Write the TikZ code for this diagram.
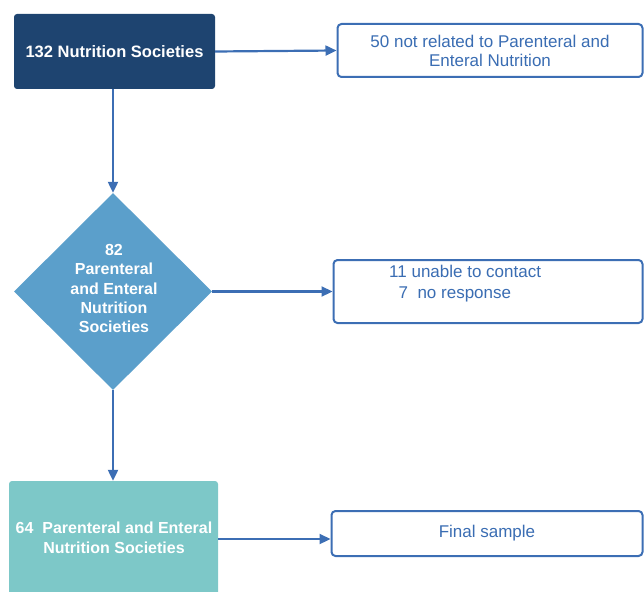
\documentclass[tikz,border=0pt]{standalone}
\usepackage{fontspec}
\setmainfont{Liberation Sans}
\usetikzlibrary{arrows.meta,shapes.geometric}
\definecolor{navy}{HTML}{1E4470}
\definecolor{diam}{HTML}{5B9FCB}
\definecolor{teal}{HTML}{7DC8C8}
\definecolor{lineblue}{HTML}{3C6EB4}
\definecolor{txtblue}{HTML}{3A6DB3}
\tikzset{
  filledbox/.style={rounded corners=3pt, inner sep=0pt, text=white, font=\bfseries\fontsize{16.5}{20}\selectfont, align=center},
  whitebold/.style={text=white, font=\bfseries\fontsize{16}{19.2}\selectfont, align=center, inner sep=0pt},
  outbox/.style={draw=lineblue, line width=2pt, rounded corners=4pt, fill=white, text=txtblue, font=\fontsize{17}{19}\selectfont, align=center, inner sep=0pt},
  conn/.style={draw=lineblue, line width=2.2pt, -{Triangle[length=11pt,width=10pt]}},
}
\begin{document}
\begin{tikzpicture}[x=1pt,y=-1pt]
\useasboundingbox (0,0) rectangle (644,591);
% boxes
\node[filledbox, fill=navy, minimum width=201pt, minimum height=75pt] (b1) at (114.5,51.5) {132 Nutrition Societies};
\node[outbox, minimum width=305pt, minimum height=53pt] (r1) at (490,50.5) {50 not related to Parenteral and\\Enteral Nutrition};
\node[diamond, fill=diam, minimum width=198pt, minimum height=197pt, inner sep=0pt] (d) at (113,291.5) {};
\node[whitebold] (dt) at (114,288.5) {82\\Parenteral\\and Enteral\\Nutrition\\Societies};
\node[outbox, minimum width=309pt, minimum height=63pt] (r2) at (488,291.5) {};
\node[text=txtblue, font=\fontsize{17}{21}\selectfont, align=left, anchor=north west, inner sep=0pt] (r2t) at (389,265) {11 unable to contact\\\ \ 7\ \ no response};
\node[filledbox, fill=teal, minimum width=209pt, minimum height=130pt] (b3) at (113.5,546) {};
\node[whitebold, font=\bfseries\fontsize{16}{20}\selectfont] (b3t) at (114,538) {64\ \ Parenteral and Enteral\\Nutrition Societies};
\node[outbox, minimum width=311pt, minimum height=45pt] (r3) at (487,533.5) {Final sample};
% connectors
\draw[conn] (b1.east) -- (r1.west);
\draw[conn] (d.north |- b1.south) -- (d.north);
\draw[conn] (d.east) -- (r2.west);
\draw[conn] (d.south) -- (b3.north -| d.south);
\draw[conn] (b3.east |- 0,539) -- (r3.west |- 0,539);
\end{tikzpicture}
\end{document}
